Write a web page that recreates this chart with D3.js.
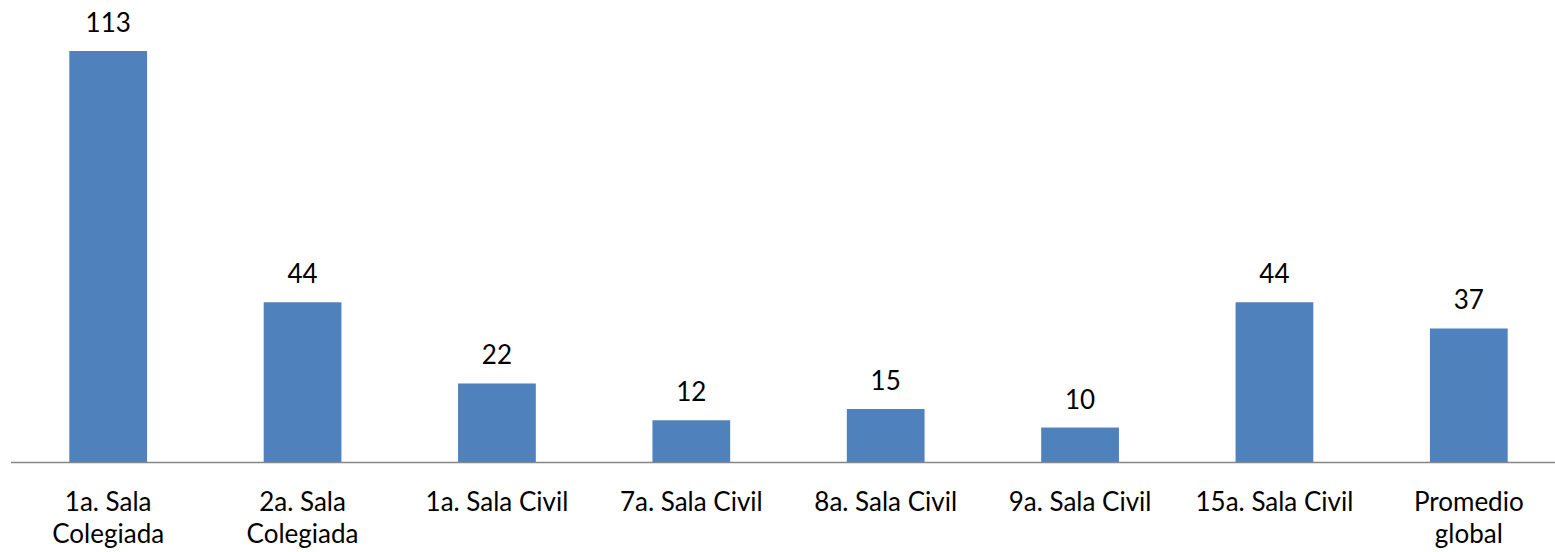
<!DOCTYPE html>
<html lang="es">
<head>
    <meta charset="UTF-8">
    <title>Salas</title>
    <style>
        html, body {
            margin: 0;
            padding: 0;
            background: #fff;
            overflow: hidden;
        }
        #chart text {
            font-family: Lato, "Open Sans", sans-serif;
            fill: #000;
        }
    </style>
</head>
<body>
    <div id="chart"></div>

    <script src="https://d3js.org/d3.v7.min.js"></script>
    <script>
        // categories (line breaks as in the original labels)
        const categories = [
            ['1a. Sala', 'Colegiada'],
            ['2a. Sala', 'Colegiada'],
            ['1a. Sala Civil'],
            ['7a. Sala Civil'],
            ['8a. Sala Civil'],
            ['9a. Sala Civil'],
            ['15a. Sala Civil'],
            ['Promedio', 'global']
        ];
        // values; labels show them rounded
        const values = [113, 44, 21.7, 11.6, 14.7, 9.6, 44, 36.8];

        const width = 1555, height = 552;
        const margin = {top: 51, left: 11, bottom: 90};
        const plotRight = 1566; // plot runs a little past the window edge

        const svg = d3.select('#chart')
                      .append('svg')
                      .attr('width', width)
                      .attr('height', height);

        const xScale = d3.scaleBand()
                         .domain(d3.range(categories.length))
                         .range([margin.left, plotRight])
                         .paddingInner(0.6)
                         .paddingOuter(0.3);

        const baseY = height - margin.bottom + 0.5;
        const yScale = d3.scaleLinear()
                         .domain([0, d3.max(values)])
                         .range([baseY, margin.top]);

        // bars
        svg.selectAll('.bar')
           .data(values)
           .enter()
           .append('rect')
           .attr('class', 'bar')
           .attr('x', (d, i) => xScale(i))
           .attr('width', xScale.bandwidth())
           .attr('y', d => yScale(d))
           .attr('height', d => baseY - yScale(d))
           .style('fill', '#4F81BD');

        // value labels
        svg.selectAll('.val')
           .data(values)
           .enter()
           .append('text')
           .attr('class', 'val')
           .attr('x', (d, i) => xScale(i) + xScale.bandwidth() / 2)
           .attr('y', d => yScale(d) - 19)
           .attr('text-anchor', 'middle')
           .style('font-size', '26px')
           .text(d => d3.format('.0f')(d));

        // category axis (line only, no ticks)
        const axis = svg.append('g')
                        .attr('transform', 'translate(0,' + baseY + ')')
                        .call(d3.axisBottom(xScale).tickSize(0).tickFormat(''));
        axis.select('.domain')
            .attr('d', 'M' + margin.left + ',0H' + plotRight)
            .attr('stroke', '#868686')
            .attr('stroke-width', 1.5);

        // category labels, possibly on two lines
        const labels = svg.selectAll('.cat')
           .data(categories)
           .enter()
           .append('text')
           .attr('class', 'cat')
           .attr('text-anchor', 'middle')
           .style('font-size', '26px');

        labels.selectAll('tspan')
              .data((d, i) => d.map(line => ({line: line, i: i})))
              .enter()
              .append('tspan')
              .attr('x', d => xScale(d.i) + xScale.bandwidth() / 2)
              .attr('y', (d, j) => baseY + 48.5 + j * 32)
              .text(d => d.line);
    </script>
</body>
</html>
